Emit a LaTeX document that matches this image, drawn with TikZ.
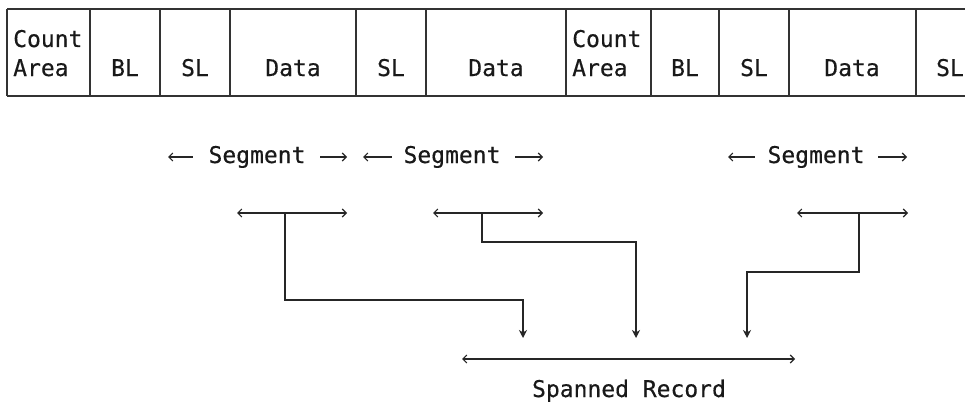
\documentclass[tikz,border=0pt]{standalone}
\usepackage{fontspec}
\setmonofont{DejaVu Sans Mono}[FakeBold=0.4]
\usetikzlibrary{arrows.meta}

\begin{document}
\begin{tikzpicture}[x=1pt,y=-1pt,
  rule/.style={draw=black!80,line width=1.2pt},
  lbl/.style={font=\ttfamily\fontsize{23}{29}\selectfont,text=black!90,inner sep=0pt,anchor=base},
  lblw/.style={lbl,anchor=base west},
  barb/.style={draw=black!85,line width=1.1pt,{Straight Barb[length=4pt,width=8pt]}-{Straight Barb[length=4pt,width=8pt]}},
  lbarb/.style={draw=black!85,line width=1.1pt,{Straight Barb[length=4pt,width=8pt]}-},
  rbarb/.style={draw=black!85,line width=1.1pt,-{Straight Barb[length=4pt,width=8pt]}},
  link/.style={draw=black!85,line width=1.2pt,-{Stealth[length=8pt,width=8pt,inset=2.5pt]}}
]
\useasboundingbox[fill=white] (0,0) rectangle (965,404);

% record layout
\draw[rule] (7,9) -- (965,9);
\draw[rule] (7,96) -- (965,96);
\foreach \x in {7,90,160,230,356,426,566,651,719,789,916}
  \draw[rule] (\x,9) -- (\x,96);

\node[lblw] (ca1) at (13,47) {Count};
\node[lblw] (ar1) at (13,76) {Area};
\node[lbl] (bl1) at (125,76) {BL};
\node[lbl] (sl1) at (195,76) {SL};
\node[lbl] (da1) at (293,76) {Data};
\node[lbl] (sl2) at (391,76) {SL};
\node[lbl] (da2) at (496,76) {Data};
\node[lblw] (ca2) at (572,47) {Count};
\node[lblw] (ar2) at (572,76) {Area};
\node[lbl] (bl2) at (685,76) {BL};
\node[lbl] (sl3) at (754,76) {SL};
\node[lbl] (da3) at (852,76) {Data};
\node[lbl] (sl4) at (950,76) {SL};

% segment captions
\node[lbl] (seg1) at (257,163) {Segment};
\node[lbl] (seg2) at (452,163) {Segment};
\node[lbl] (seg3) at (816,163) {Segment};
\coordinate (s1l) at (168,157); \coordinate (s1m) at (193,157);
\coordinate (s1n) at (320,157); \coordinate (s1r) at (347,157);
\coordinate (s2l) at (363,157); \coordinate (s2m) at (392,157);
\coordinate (s2n) at (515,157); \coordinate (s2r) at (543,157);
\coordinate (s3l) at (728,157); \coordinate (s3m) at (755,157);
\coordinate (s3n) at (878,157); \coordinate (s3r) at (907,157);
\draw[lbarb] (s1l) -- (s1m);
\draw[rbarb] (s1n) -- (s1r);
\draw[lbarb] (s2l) -- (s2m);
\draw[rbarb] (s2n) -- (s2r);
\draw[lbarb] (s3l) -- (s3m);
\draw[rbarb] (s3n) -- (s3r);

% segment extents
\coordinate (b1l) at (237,213); \coordinate (b1s) at (285,213); \coordinate (b1r) at (347,213);
\coordinate (b2l) at (433,213); \coordinate (b2s) at (482,213); \coordinate (b2r) at (543,213);
\coordinate (b3l) at (797,213); \coordinate (b3s) at (859,213); \coordinate (b3r) at (908,213);
\draw[barb] (b1l) -- (b1r);
\draw[barb] (b2l) -- (b2r);
\draw[barb] (b3l) -- (b3r);

% spanned record
\coordinate (rl) at (462,359); \coordinate (rr) at (795,359);
\draw[barb] (rl) -- (rr);
\node[lbl] (span) at (629,397) {Spanned Record};

% segments feeding the spanned record
\coordinate (d1) at (523,338);
\coordinate (d2) at (636,338);
\coordinate (d3) at (747,338);
\draw[link] (b1s) -- (285,300) -| (d1);
\draw[link] (b2s) -- (482,242) -| (d2);
\draw[link] (b3s) -- (859,272) -| (d3);
\end{tikzpicture}
\end{document}
